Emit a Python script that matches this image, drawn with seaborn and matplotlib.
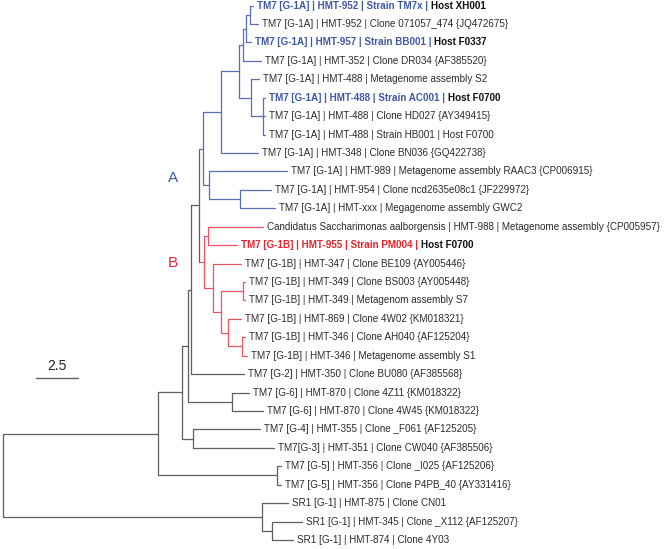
"""
Phylogenetic tree of TM7 / SR1 oral taxa (rectangular cladogram) -> out.png
"""

import matplotlib
matplotlib.use("Agg")
import matplotlib.pyplot as plt
import pandas as pd
import seaborn as sns

# ---- leaves, top to bottom ----
leaf_labels = [
    "TM7 [G-1A] | HMT-952 | Strain TM7x | ",
    "TM7 [G-1A] | HMT-952 | Clone 071057_474 {JQ472675}",
    "TM7 [G-1A] | HMT-957 | Strain BB001 | ",
    "TM7 [G-1A] | HMT-352 | Clone DR034 {AF385520}",
    "TM7 [G-1A] | HMT-488 | Metagenome assembly S2",
    "TM7 [G-1A] | HMT-488 | Strain AC001 | ",
    "TM7 [G-1A] | HMT-488 | Clone HD027 {AY349415}",
    "TM7 [G-1A] | HMT-488 | Strain HB001 | Host F0700",
    "TM7 [G-1A] | HMT-348 | Clone BN036 {GQ422738}",
    "TM7 [G-1A] | HMT-989 | Metagenome assembly RAAC3 {CP006915}",
    "TM7 [G-1A] | HMT-954 | Clone ncd2635e08c1 {JF229972}",
    "TM7 [G-1A] | HMT-xxx | Megagenome assembly GWC2",
    "Candidatus Saccharimonas aalborgensis | HMT-988 | Metagenome assembly {CP005957}",
    "TM7 [G-1B] | HMT-955 | Strain PM004 | ",
    "TM7 [G-1B] | HMT-347 | Clone BE109 {AY005446}",
    "TM7 [G-1B] | HMT-349 | Clone BS003 {AY005448}",
    "TM7 [G-1B] | HMT-349 | Metagenom assembly S7",
    "TM7 [G-1B] | HMT-869 | Clone 4W02 {KM018321}",
    "TM7 [G-1B] | HMT-346 | Clone AH040 {AF125204}",
    "TM7 [G-1B] | HMT-346 | Metagenome assembly S1",
    "TM7 [G-2] | HMT-350 | Clone BU080 {AF385568}",
    "TM7 [G-6] | HMT-870 | Clone 4Z11 {KM018322}",
    "TM7 [G-6] | HMT-870 | Clone 4W45 {KM018322}",
    "TM7 [G-4] | HMT-355 | Clone _F061 {AF125205}",
    "TM7[G-3] | HMT-351 | Clone CW040 {AF385506}",
    "TM7 [G-5] | HMT-356 | Clone _I025 {AF125206}",
    "TM7 [G-5] | HMT-356 | Clone P4PB_40 {AY331416}",
    "SR1 [G-1] | HMT-875 | Clone CN01",
    "SR1 [G-1] | HMT-345 | Clone _X112 {AF125207}",
    "SR1 [G-1] | HMT-874 | Clone 4Y03",
]
leaf_host = [
    "Host XH001", "", "Host F0337", "", "", "Host F0700", "", "", "", "",
    "", "", "", "Host F0700", "", "", "", "", "", "",
    "", "", "", "", "", "", "", "", "", "",
]
leaf_parent = [
    "u", "u", "t", "r", "s", "v", "v", "v", "p", "w",
    "x", "x", "b1", "b1", "y", "n1617", "n1617", "aa", "n1920", "n1920",
    "n2", "g6", "g6", "g43", "g43", "g5", "g5", "sr1", "sr1b", "sr1b",
]
# distance from root (substitution scale units)
leaf_depth = [
    14.88, 15.18, 14.76, 15.36, 15.24, 15.60, 15.60, 15.60, 15.18, 16.90,
    15.95, 16.19, 15.48, 13.93, 14.17, 14.40, 14.40, 14.17, 14.40, 14.52,
    14.35, 14.64, 15.48, 15.30, 16.13, 16.55, 16.55, 16.96, 17.80, 17.26,
]

# ---- internal nodes ----
node_ids = ["root", "tm7", "sr1", "sr1b", "n1", "g5", "n3", "g43", "n2", "g6",
            "g1", "g1a", "g1b", "p", "w", "q", "r", "s", "t", "u", "v", "x",
            "b1", "y", "z", "n1617", "aa", "n1920"]
node_parent = [None, "root", "root", "sr1", "tm7", "tm7", "n1", "n1", "n3", "n3",
               "n2", "g1", "g1", "g1a", "g1a", "p", "q", "q", "r", "t", "s", "w",
               "g1b", "g1b", "y", "z", "z", "aa"]
node_depth = [0.0, 9.23, 15.42, 16.01, 10.65, 16.31, 11.01, 11.31, 11.19, 13.63,
              11.67, 11.93, 11.99, 12.98, 12.26, 14.05, 14.29, 14.76, 14.46, 14.70,
              15.48, 14.11, 12.23, 12.50, 12.98, 14.29, 13.39, 14.23]

scale_len = 2.5
clade_names = {"g1a": "A", "g1b": "B"}

line_colors = {"base": "#5f5f5f", "A": "#5b6fb4", "B": "#ec5560"}
text_colors = {"A": "#3f58a6", "B": "#e3262d"}


def build_tree():
    parent = dict(zip(node_ids, node_parent))
    depth = dict(zip(node_ids, node_depth))
    children = {n: [] for n in node_ids}
    ypos = {}
    for i, p in enumerate(leaf_parent):
        leaf = f"leaf{i}"
        parent[leaf] = p
        depth[leaf] = leaf_depth[i]
        children[p].append(leaf)
        ypos[leaf] = i
    for n, p in zip(node_ids, node_parent):
        if p is not None:
            children[p].append(n)

    def place(n):
        if n in ypos:
            return ypos[n]
        ys = [place(c) for c in children[n]]
        ypos[n] = (min(ys) + max(ys)) / 2
        return ypos[n]

    place("root")

    def clade_of(n):
        while n is not None:
            if n in clade_names:
                return clade_names[n]
            n = parent[n]
        return "base"

    clade = {n: clade_of(n) for n in parent}
    for i in range(len(leaf_labels)):
        clade[f"leaf{i}"] = clade[leaf_parent[i]]
    return parent, depth, children, ypos, clade


def segments(parent, depth, children, ypos, clade):
    rows = []
    k = 0
    for n in parent:
        p = parent[n]
        if p is not None:
            c = clade[n]
            rows += [(k, depth[p], ypos[n], c), (k, depth[n], ypos[n], c)]
            k += 1
        if children.get(n):
            ys = [ypos[ch] for ch in children[n]]
            rows += [(k, depth[n], min(ys), clade[n]), (k, depth[n], max(ys), clade[n])]
            k += 1
    return pd.DataFrame(rows, columns=["seg", "x", "y", "clade"])


def plot_tree():
    sns.set_theme(style="white")
    plt.rcParams["font.family"] = ["Liberation Sans", "DejaVu Sans"]

    parent, depth, children, ypos, clade = build_tree()
    df = segments(parent, depth, children, ypos, clade)

    fig = plt.figure(figsize=(6.70, 5.49), dpi=100)
    ax = fig.add_axes([0, 0, 1, 1])
    sns.lineplot(data=df, x="x", y="y", units="seg", hue="clade",
                 palette=line_colors, estimator=None, sort=False,
                 legend=False, linewidth=0.9, ax=ax)

    fs = 7.1
    for i, label in enumerate(leaf_labels):
        x = leaf_depth[i] + 0.24
        host = leaf_host[i]
        if host:
            t = ax.text(x, i, label, fontsize=fs, fontweight="bold",
                        color=text_colors[clade[f"leaf{i}"]], va="center", ha="left")
            ax.annotate(host, xy=(1, 0), xycoords=t, fontsize=fs,
                        fontweight="bold", color="#111111", va="bottom", ha="left")
        else:
            ax.text(x, i, label, fontsize=fs, color="#2b2b2b", va="center", ha="left")

    # clade letters
    ax.text(10.12, 9.36, "A", fontsize=11, color=text_colors["A"], ha="center", va="center")
    ax.text(10.12, 13.97, "B", fontsize=11, color=text_colors["B"], ha="center", va="center")

    # scale bar
    sx, sy = 1.96, 20.2
    ax.plot([sx, sx + scale_len], [sy, sy], color="#5f5f5f", lw=1.0)
    ax.text(sx + scale_len / 2, sy - 0.65, f"{scale_len:g}", fontsize=10,
            color="#222222", ha="center", va="center")

    ax.set_xlim(-0.18, 39.7)
    ax.set_ylim(29.49, -0.30)
    ax.axis("off")
    fig.savefig("out.png", dpi=100)
    print("saved -> out.png")


if __name__ == "__main__":
    plot_tree()
